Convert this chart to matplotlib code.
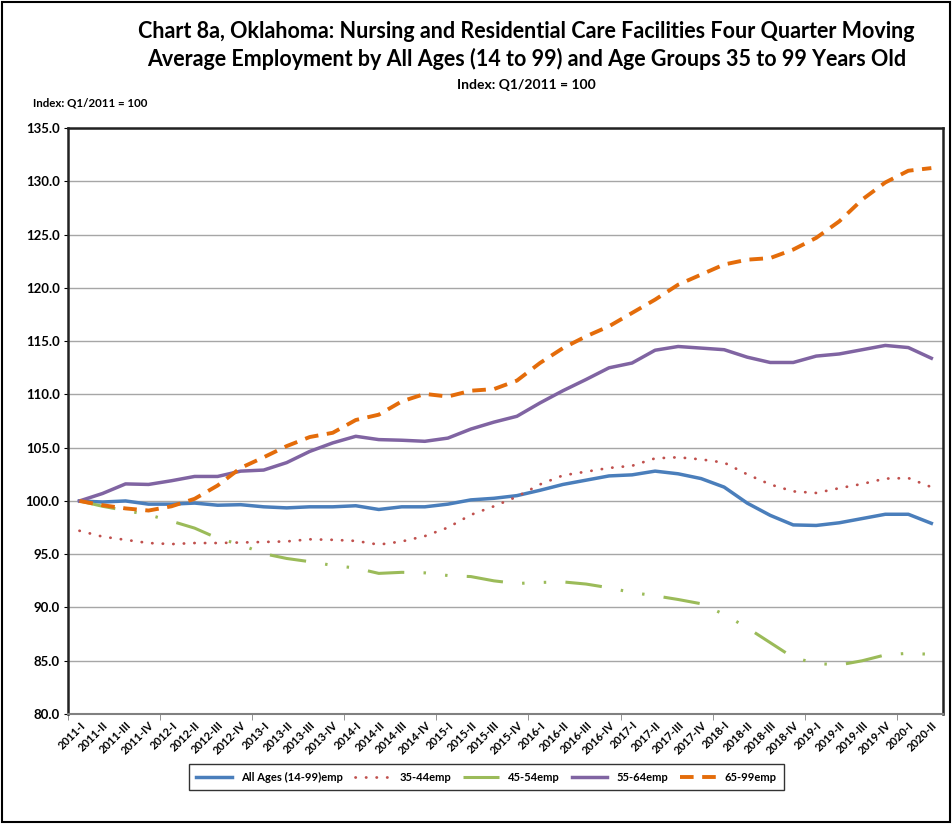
import matplotlib.pyplot as plt
from matplotlib.patches import Rectangle

plt.rcParams["font.family"] = ["Lato", "DejaVu Sans"]
plt.rcParams["font.weight"] = "bold"

years = [str(y) for y in range(2011, 2021)]
quarters = ["I", "II", "III", "IV"]
labels = [f"{y}-{q}" for y in years for q in quarters][:38]

all_ages = [100.0, 99.9, 100.0, 99.7, 99.7, 99.8, 99.6, 99.65, 99.45, 99.35,
            99.45, 99.45, 99.55, 99.2, 99.45, 99.45, 99.7, 100.1, 100.25, 100.5,
            101.0, 101.55, 101.95, 102.35, 102.45, 102.8, 102.55, 102.1, 101.3, 99.8,
            98.65, 97.75, 97.7, 97.95, 98.35, 98.75, 98.75, 97.9]
age_35_44 = [97.2, 96.65, 96.35, 96.05, 95.95, 96.05, 96.05, 96.1, 96.15, 96.2,
             96.4, 96.35, 96.25, 95.9, 96.2, 96.7, 97.5, 98.7, 99.5, 100.4,
             101.55, 102.4, 102.75, 103.1, 103.3, 104.0, 104.1, 103.9, 103.6, 102.5,
             101.55, 100.9, 100.75, 101.2, 101.6, 102.1, 102.15, 101.3]
age_45_54 = [100.0, 99.5, 99.1, 98.7, 98.1, 97.45, 96.5, 95.9, 95.05, 94.6,
             94.3, 93.95, 93.7, 93.2, 93.3, 93.25, 93.0, 92.9, 92.5, 92.25,
             92.35, 92.4, 92.2, 91.85, 91.4, 91.1, 90.75, 90.35, 89.35, 88.1,
             86.7, 85.3, 84.75, 84.6, 85.0, 85.55, 85.7, 85.6]
age_55_64 = [100.0, 100.7, 101.6, 101.55, 101.9, 102.3, 102.3, 102.8, 102.9, 103.6,
             104.65, 105.45, 106.07, 105.76, 105.7, 105.6, 105.9, 106.75, 107.4, 107.95,
             109.2, 110.35, 111.4, 112.5, 112.95, 114.15, 114.5, 114.35, 114.2, 113.5,
             113.0, 113.0, 113.6, 113.8, 114.2, 114.6, 114.4, 113.4]
age_65_99 = [100.0, 99.6, 99.3, 99.1, 99.5, 100.2, 101.45, 103.1, 104.1, 105.15,
             106.0, 106.4, 107.6, 108.1, 109.35, 110.05, 109.8, 110.35, 110.5, 111.3,
             112.95, 114.35, 115.45, 116.4, 117.65, 118.9, 120.3, 121.25, 122.2, 122.65,
             122.8, 123.6, 124.7, 126.25, 128.3, 129.9, 131.0, 131.25]

fig = plt.figure(figsize=(9.52, 8.24), dpi=100)
ax = fig.add_axes([0.0714, 0.1335, 0.919, 0.711])

x = list(range(len(labels)))
ax.plot(x, all_ages, color="#4A7EBB", lw=2.5, label="All Ages (14-99)emp")
ax.plot(x, age_35_44, color="#C0504D", lw=2.0, ls=(0, (0.1, 3.7)),
        dash_capstyle="round", label="35-44emp")
ax.plot(x, age_45_54, color="#9BBB59", lw=2.2,
        ls=(0, (12, 6.3, 0.8, 6.3, 0.8, 6.3)), label="45-54emp")
ax.plot(x, age_55_64, color="#8064A2", lw=2.5, label="55-64emp")
ax.plot(x, age_65_99, color="#E46C0A", lw=2.8, ls=(0, (3.5, 2.2)), label="65-99emp")

ax.set_xlim(-0.5, len(labels) - 0.5)
ax.set_ylim(80, 135)
ax.set_yticks(range(80, 136, 5))
ax.set_yticklabels([f"{v:.1f}" for v in range(80, 136, 5)], fontsize=9.5, fontweight="bold")
ax.yaxis.grid(True, color="#A6A6A6", lw=1)
ax.set_axisbelow(True)

ax.set_xticks(x)
ax.set_xticklabels(labels, rotation=45, ha="right", rotation_mode="anchor",
                   fontsize=8, fontweight="bold")
ax.tick_params(axis="x", length=0, pad=4)
ax.set_xticks([i - 0.5 for i in range(0, len(labels) + 1, 4)], minor=True)
ax.tick_params(axis="x", which="minor", length=4, color="#808080")
ax.tick_params(axis="y", length=3, pad=3)

for side in ["left", "top", "right"]:
    ax.spines[side].set_linewidth(1.8)
    ax.spines[side].set_color("#222222")
ax.spines["bottom"].set_color("#808080")
ax.spines["bottom"].set_linewidth(1.5)

fig.text(0.553, 0.962, "Chart 8a, Oklahoma: Nursing and Residential Care Facilities Four Quarter Moving",
         ha="center", va="center", fontsize=15.5, fontweight="bold")
fig.text(0.553, 0.928, "Average Employment by All Ages (14 to 99) and Age Groups 35 to 99 Years Old",
         ha="center", va="center", fontsize=15.5, fontweight="bold")
fig.text(0.553, 0.897, "Index: Q1/2011 = 100", ha="center", va="center",
         fontsize=10, fontweight="bold")
fig.text(0.035, 0.875, "Index: Q1/2011 = 100", ha="left", va="center",
         fontsize=8.3, fontweight="bold")

leg = fig.legend(loc="center", bbox_to_anchor=(0.511, 0.057), ncol=5, frameon=True,
                 fancybox=False, edgecolor="black", fontsize=8, handlelength=3.2,
                 columnspacing=1.1, borderpad=0.7)
leg.get_frame().set_linewidth(1)

fig.patches.append(Rectangle((0.002, 0.002), 0.996, 0.996, transform=fig.transFigure,
                             fill=False, edgecolor="black", lw=1.5))

fig.savefig("out.png", dpi=100)
